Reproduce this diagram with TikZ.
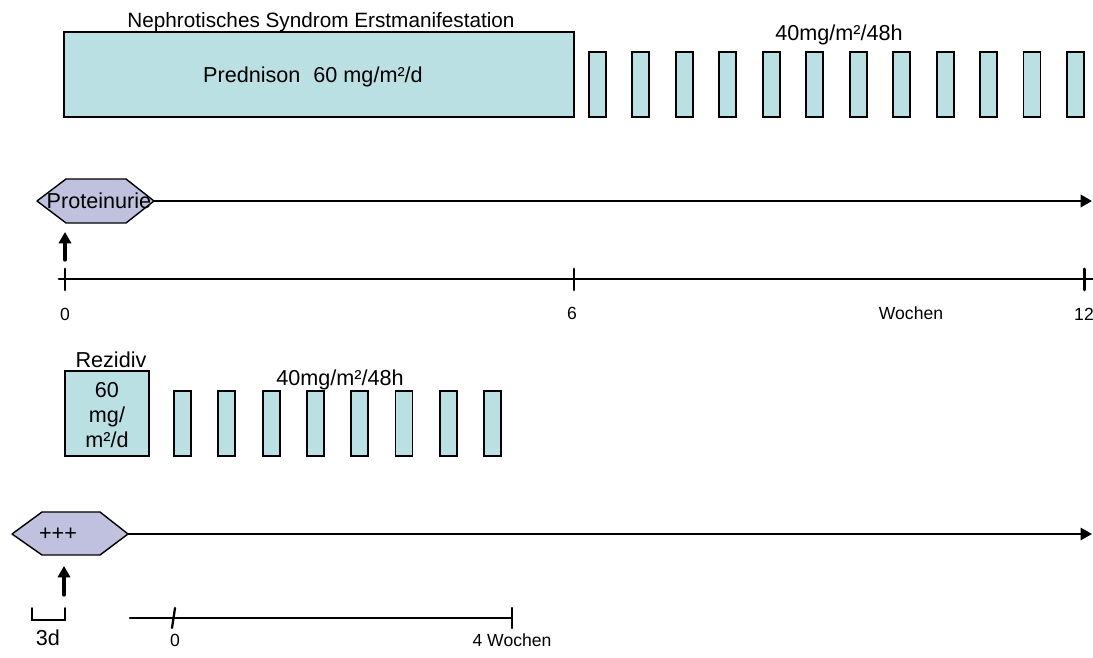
\documentclass[tikz,border=0pt]{standalone}
\usepackage{fontspec}
\setmainfont{Liberation Sans}
\usepackage{tikz}
\usetikzlibrary{arrows.meta}
\usepackage{tkz-euclide}

\definecolor{dosefill}{RGB}{187,224,227}
\definecolor{hexfill}{RGB}{192,193,223}
\tikzset{
  dose/.style={draw=black, line width=1.1pt, fill=dosefill},
  hexa/.style={draw=black, line width=0.8pt, fill=hexfill},
  timeaxis/.style={black, line width=1.7pt},
  thinaxis/.style={black, line width=1.3pt},
  arrowtip/.style={-{Triangle[length=6.5pt,width=7pt]}},
  lbl/.style={font=\fontsize{12.3}{14.4}\selectfont, inner sep=0pt},
  titlelbl/.style={font=\fontsize{11.8}{14}\selectfont, inner sep=0pt},
  axislbl/.style={font=\fontsize{10}{12}\selectfont, inner sep=0pt}
}

\begin{document}
\begin{tikzpicture}[x=0.02cm, y=-0.02cm]
        \useasboundingbox (0,0) rectangle (1093,658);
        \tkzDefPoints{64/32/A, 574/117/B, 65/371/C, 149/456/D}
        \tkzDefPoints{37/201/P1, 66/179/P2, 126/179/P3, 154/201/P4, 126/223/P5, 66/223/P6}
        \tkzDefPoints{12/534/Q1, 42/512/Q2, 100/512/Q3, 128/534/Q4, 100/555/Q5, 42/555/Q6}
        \tkzDefPoints{1092/201/E1, 1092/534/E2}
        \tkzDefPoints{65/260/U1, 65/232/U2, 64/595/V1, 64/566/V2}
        \tkzDefPoints{59/279/L1, 1093/279/L2, 65/269/T1, 65/290/T2, 574/269/T3, 574/290/T4, 1084/269/T5, 1084/290/T6}
        \tkzDefPoints{130/618/M1, 512/618/M2, 175/608/S1, 172/628/S2, 512/608/S3, 512/628/S4}
        \tkzDefPoints{32/608/K1, 32/620/K2, 65/620/K3, 65/608/K4}
        \draw[dose] (A) rectangle (B);
        \foreach \i in {0,...,11} \draw[dose] ({589+43.45*\i},52) rectangle ++(17,65);
        \draw[dose] (C) rectangle (D);
        \foreach \i in {0,...,7} \draw[dose] ({174+44.3*\i},391) rectangle ++(17,65);
        \tkzDrawSegments[timeaxis,arrowtip](P4,E1)
        \tkzDrawSegments[thinaxis,arrowtip](Q4,E2)
        \tkzDrawPolygon[hexa](P1,P2,P3,P4,P5,P6)
        \tkzDrawPolygon[hexa](Q1,Q2,Q3,Q4,Q5,Q6)
        \tkzDrawSegments[black, line width=1.9pt, arrowtip](U1,U2 V1,V2)
        \tkzDrawSegments[timeaxis](L1,L2 T1,T2 T3,T4 T5,T6)
        \tkzDrawSegments[thinaxis](M1,M2 S1,S2 S3,S4)
        \tkzDrawPolySeg[black, line width=1.1pt](K1,K2,K3,K4)
        \node[titlelbl] (titel) at (321,22) {Nephrotisches Syndrom Erstmanifestation};
        \node[lbl] (pred) at (313,77) {Prednison\hspace{0.6em}60 mg/m²/d};
        \node[lbl] (erh1) at (839,35) {40mg/m²/48h};
        \node[lbl] (prot) at (99,201) {Proteinurie};
        \node[axislbl] (w0) at (65,314) {0};
        \node[axislbl] (w6) at (572,313) {6};
        \node[axislbl] (wo) at (911,313) {Wochen};
        \node[axislbl] (w12) at (1084,314) {12};
        \node[lbl] (rez) at (111,360) {Rezidiv};
        \node[lbl, align=center] (dosis) at (107,415) {60\\mg/\\m²/d};
        \node[lbl] (erh2) at (340,380) {40mg/m²/48h};
        \node[lbl] (plus) at (58,534) {+++};
        \node[lbl] (drei) at (48,638) {3d};
        \node[axislbl] (n0) at (175,640) {0};
        \node[axislbl] (vier) at (512,640) {4 Wochen};
    \end{tikzpicture}
\end{document}
